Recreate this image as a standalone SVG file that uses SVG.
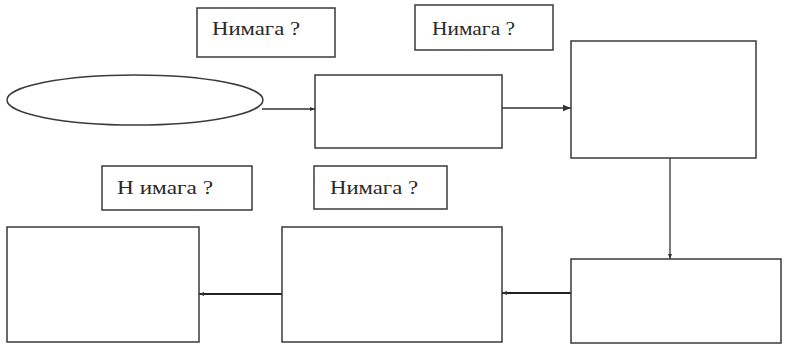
<svg xmlns="http://www.w3.org/2000/svg" width="785" height="345" viewBox="0 0 785 345">
<defs>
<style>
.box{fill:#fff;stroke:#3a3a3a;stroke-width:1.5}
.lbl{font-family:"Liberation Serif","Times New Roman",serif;font-size:19px;fill:#2a2a2a}
.con{stroke:#333;stroke-width:1.3;fill:none}
.thick{stroke:#222;stroke-width:2;fill:none}
</style>
<marker id="ah" viewBox="0 0 10 10" refX="10" refY="5" markerWidth="5" markerHeight="5" orient="auto" markerUnits="userSpaceOnUse">
<path d="M0,1 L10,5 L0,9 z" fill="#333"/>
</marker>
<marker id="ahb" viewBox="0 0 10 10" refX="10" refY="5" markerWidth="9" markerHeight="8" orient="auto" markerUnits="userSpaceOnUse">
<path d="M0,1 L10,5 L0,9 z" fill="#333"/>
</marker>
</defs>
<rect width="785" height="345" fill="#fff"/>
<g id="connectors">
<line class="con" x1="262" y1="109" x2="315" y2="109" marker-end="url(#ah)"/>
<line class="con" x1="502" y1="108" x2="571" y2="108" marker-end="url(#ahb)"/>
<line class="con" x1="670" y1="158" x2="670" y2="259" marker-end="url(#ah)"/>
<line class="thick" x1="571" y1="293" x2="502" y2="293" marker-end="url(#ah)"/>
<line class="thick" x1="282" y1="294" x2="199" y2="294" marker-end="url(#ah)"/>
</g>
<g id="label1"><rect class="box" x="197" y="8" width="138" height="49"/><text class="lbl" x="212" y="35" textLength="88" lengthAdjust="spacingAndGlyphs">Нимага ?</text></g>
<g id="label2"><rect class="box" x="415" y="5" width="138" height="45"/><text class="lbl" x="432" y="35" textLength="83" lengthAdjust="spacingAndGlyphs">Нимага ?</text></g>
<g id="label3"><rect class="box" x="102" y="166" width="150" height="44"/><text class="lbl" x="117" y="194" textLength="96" lengthAdjust="spacingAndGlyphs">Н имага ?</text></g>
<g id="label4"><rect class="box" x="314" y="166" width="133" height="43"/><text class="lbl" x="330" y="194" textLength="88" lengthAdjust="spacingAndGlyphs">Нимага ?</text></g>
<g id="start"><ellipse class="box" cx="135" cy="100" rx="128" ry="25"/></g>
<g id="box1"><rect class="box" x="315" y="75" width="187" height="73"/></g>
<g id="box2"><rect class="box" x="571" y="41" width="185" height="117"/></g>
<g id="box3"><rect class="box" x="571" y="259" width="210" height="84"/></g>
<g id="box4"><rect class="box" x="282" y="227" width="220" height="115"/></g>
<g id="box5"><rect class="box" x="7" y="227" width="192" height="115"/></g>
</svg>
